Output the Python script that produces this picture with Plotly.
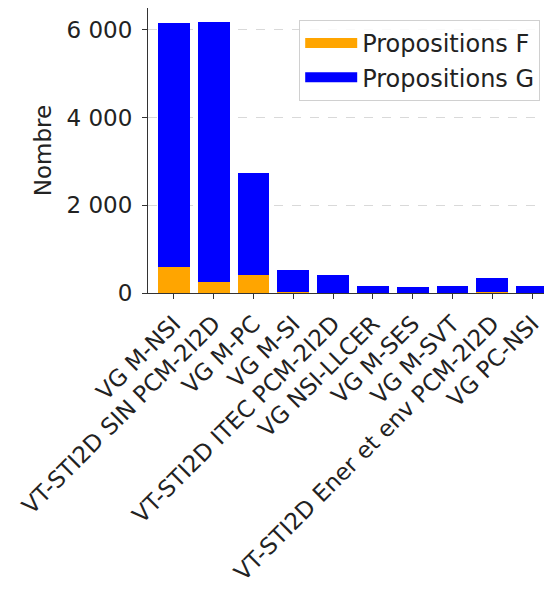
import plotly.graph_objects as go

categories = ["VG M-NSI", "VT-STI2D SIN PCM-2I2D", "VG M-PC", "VG M-SI",
              "VT-STI2D ITEC PCM-2I2D", "VG NSI-LLCER", "VG M-SES", "VG M-SVT",
              "VT-STI2D Ener et env PCM-2I2D", "VG PC-NSI"]
totals = [6160, 6180, 2730, 530, 410, 160, 130, 160, 340, 170]
prop_f = [590, 250, 420, 30, 10, 10, 5, 5, 15, 10]
prop_g = [t - f for t, f in zip(totals, prop_f)]
y_ticks = [0, 2000, 4000, 6000]

ORANGE = "#FFA500"
BLUE = "#0000FF"
FONT = "DejaVu Sans"

fig = go.Figure()
fig.add_trace(go.Bar(x=categories, y=prop_f, marker=dict(color=ORANGE, line_width=0),
                     width=0.8, name="Propositions F", showlegend=False))
fig.add_trace(go.Bar(x=categories, y=prop_g, marker=dict(color=BLUE, line_width=0),
                     width=0.8, name="Propositions G", showlegend=False))
# legend proxies
fig.add_trace(go.Scatter(x=[None], y=[None], mode="lines", line=dict(color=ORANGE, width=13),
                         name="Propositions F"))
fig.add_trace(go.Scatter(x=[None], y=[None], mode="lines", line=dict(color=BLUE, width=13),
                         name="Propositions G"))

fig.update_layout(
    width=552, height=593,
    barmode="stack",
    separators=". ",
    margin=dict(l=140, r=0, t=0, b=308, pad=0),
    paper_bgcolor="white", plot_bgcolor="white",
    font=dict(family=FONT, size=23, color="#222"),
    legend=dict(x=0.367, y=0.958, xanchor="left", yanchor="top",
                traceorder="normal",
                bgcolor="rgba(255,255,255,0.85)", bordercolor="#d0d0d0", borderwidth=1,
                font=dict(size=24), itemwidth=52, tracegroupgap=0),
    xaxis=dict(type="category", range=[-0.65, 9.7], tickangle=-45,
               showline=True, linecolor="#333", linewidth=1.2, mirror=True,
               ticks="outside", ticklen=5, tickcolor="#333", showgrid=False,
               tickfont=dict(size=23), ticklabelstandoff=2),
    yaxis=dict(range=[0, 6500], tickvals=y_ticks, tickformat=",d",
               showline=True, linecolor="#333", linewidth=1.2,
               ticks="outside", ticklen=5, tickcolor="#333",
               showgrid=True, gridcolor="#d9d9d9", griddash="dash", gridwidth=1,
               zeroline=False, tickfont=dict(size=23), ticklabelstandoff=5,
               title=dict(text="Nombre", font=dict(size=23), standoff=8)),
)

fig.write_html("out.html")
